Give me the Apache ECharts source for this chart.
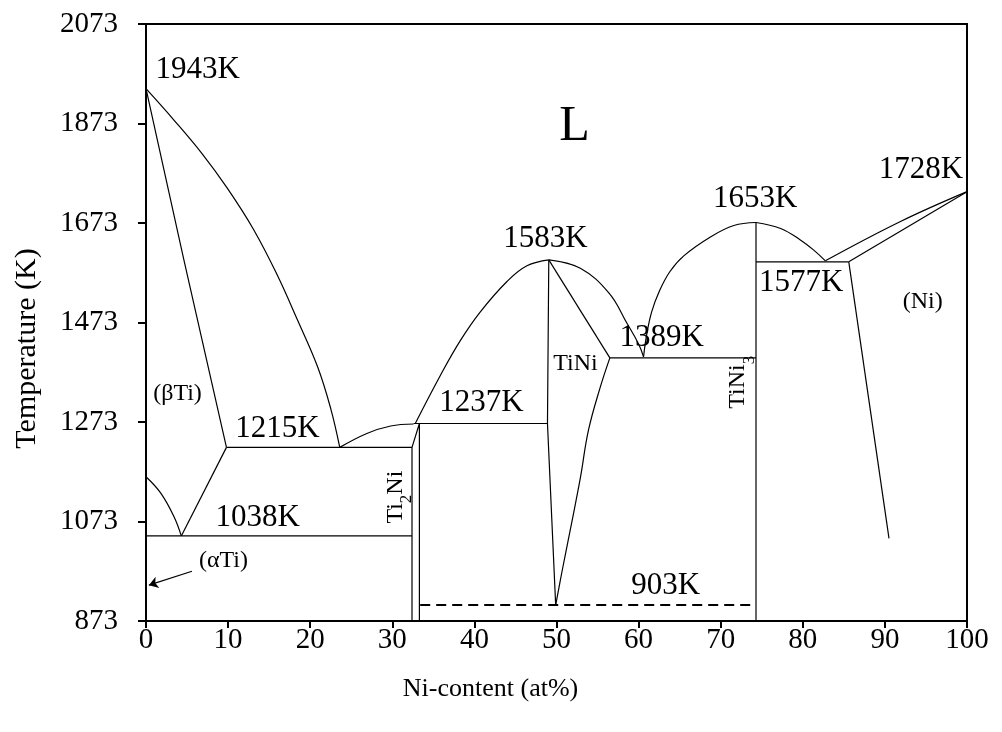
<!DOCTYPE html>
<html>
<head>
<meta charset="utf-8">
<script src="https://cdn.jsdelivr.net/npm/echarts@6/dist/echarts.min.js"></script>
<style>
  html, body { margin: 0; padding: 0; background: #fff; }
  #chart { width: 1002px; height: 732px; }
</style>
</head>
<body>
<div id="chart"></div>
<script>
// Ti-Ni phase diagram: [Ni at%, T in K]
const liquidusTi = [[0, 1943], [3.4, 1880], [6.8, 1813], [9.9, 1743], [13.1, 1660], [16.0, 1568], [18.4, 1480], [20.9, 1384], [22.5, 1300], [23.6, 1222]];
const solidusBetaTi = [[0, 1943], [4.6, 1600], [9.8, 1222]];
const transusLeft = [[0, 1163], [1.8, 1130], [3.4, 1083], [4.3, 1044]];
const transusRight = [[4.3, 1044], [9.8, 1222]];
const eutectic1215 = [[9.8, 1222], [32.4, 1222]];
const eutectoid1038 = [[0, 1044], [32.4, 1044]];
const liquidusTi2Ni = [[23.6, 1222], [26.9, 1250], [29.8, 1265], [32.6, 1269]];
const ti2NiLeft = [[32.4, 1222], [32.4, 873]];
const ti2NiRight = [[32.4, 1222], [33.3, 1270], [33.3, 873]];
const peritectic1237 = [[32.6, 1270], [48.9, 1270]];
const liquidusTiNiLeft = [[32.8, 1270], [35.9, 1368], [38.3, 1437], [40.7, 1494], [44.0, 1556], [46.4, 1587], [49.06, 1599]];
const tiNiLeft = [[49.06, 1599], [48.9, 1270], [49.9, 905]];
const tiNiTop = [[49.06, 1599], [56.5, 1402]];
const tiNiRight = [[56.5, 1402], [55.35, 1344], [53.9, 1257], [52.9, 1160], [51.7, 1058], [50.7, 975], [49.9, 905]];
const liquidusTiNiRight = [[49.06, 1599], [52.9, 1582], [56.4, 1532], [58.6, 1471], [60.0, 1430], [60.6, 1404]];
const eutectic1389 = [[56.5, 1402], [74.3, 1402]];
const liquidusTiNi3Left = [[60.6, 1404], [61.0, 1450], [61.6, 1495], [62.5, 1535], [63.8, 1575], [65.5, 1607], [68.75, 1645], [71.6, 1668], [74.3, 1674]];
const tiNi3Line = [[74.3, 1674], [74.3, 873]];
const liquidusTiNi3Right = [[74.3, 1674], [77.3, 1662], [79.7, 1639], [81.3, 1619], [82.75, 1597]];
const eutectic1577 = [[74.3, 1595], [85.6, 1595]];
const liquidusNi = [[82.75, 1597], [91.9, 1676], [100, 1736]];
const solidusNi = [[85.6, 1595], [100, 1736]];
const solvusNi = [[85.6, 1595], [90.5, 1039]];
const eutectoid903 = [[33.4, 905], [74.3, 905]];
const arrowAlphaTi = [[5.6, 973], [0.35, 945]];

const xTicks = [0, 100, 10];
const yTicks = [873, 2073, 200];

// annotations: [x, T, text]
const tempLabels = [
  [6.3, 1980, '1943K'], [48.65, 1641, '1583K'], [74.2, 1721, '1653K'], [94.4, 1779, '1728K'],
  [79.8, 1552, '1577K'], [62.8, 1442, '1389K'], [40.85, 1311, '1237K'], [16.0, 1259, '1215K'],
  [13.6, 1080, '1038K'], [63.3, 943, '903K']
];
const phaseLabels = [
  [3.84, 1329, '(βTi)'], [9.44, 994, '(αTi)'], [52.3, 1390, 'TiNi'], [94.6, 1514, '(Ni)']
];
const liquidLabel = [[52.2, 1866, 'L']];
const compoundLabels = [
  [30.5, 1122, '{a|Ti}{s|2}{a|Ni}'], [72.2, 1353, '{a|TiNi}{s|3}']
];

const FONT = '"Liberation Serif", "Times New Roman", serif';

const curves = [liquidusTi, transusLeft, liquidusTi2Ni, liquidusTiNiLeft, tiNiRight,
  liquidusTiNiRight, liquidusTiNi3Left, liquidusTiNi3Right, liquidusNi];
const straights = [solidusBetaTi, transusRight, eutectic1215, eutectoid1038, ti2NiLeft, ti2NiRight,
  peritectic1237, tiNiLeft, tiNiTop, eutectic1389, tiNi3Line, eutectic1577, solidusNi, solvusNi];

function lineSeries(data, smooth) {
  return {
    type: 'line', data: data, smooth: smooth, symbol: 'none', silent: true,
    lineStyle: {color: '#000', width: 1.2}, z: 3
  };
}

function textSeries(items, label) {
  return {
    type: 'scatter', symbolSize: 0, silent: true, z: 5,
    itemStyle: {opacity: 1, color: '#000'},
    data: items.map(e => ({value: [e[0], e[1]], name: e[2]})),
    label: Object.assign({show: true, position: 'inside', color: '#000', fontFamily: FONT,
      formatter: p => p.name}, label)
  };
}

let series = [];
curves.forEach(c => series.push(lineSeries(c, 0.4)));
straights.forEach(c => series.push(lineSeries(c, false)));
series.push({
  type: 'line', data: eutectoid903, symbol: 'none', silent: true,
  lineStyle: {color: '#000', width: 2, type: [10, 6]}
});
series.push({
  type: 'lines', coordinateSystem: 'cartesian2d', silent: true,
  symbol: ['none', 'arrow'], symbolSize: 9,
  lineStyle: {color: '#000', width: 1.2, opacity: 1},
  data: [{coords: arrowAlphaTi}]
});
series.push(textSeries(tempLabels, {fontSize: 31}));
series.push(textSeries(phaseLabels, {fontSize: 24}));
series.push(textSeries(liquidLabel, {fontSize: 50}));
series.push(textSeries(compoundLabels, {
  fontSize: 24, rotate: 90,
  rich: {
    a: {fontFamily: FONT, fontSize: 24, lineHeight: 26, verticalAlign: 'top', color: '#000'},
    s: {fontFamily: FONT, fontSize: 17, lineHeight: 17, padding: [15, 0, 0, 0], verticalAlign: 'top', color: '#000'}
  }
}));

const tickText = {color: '#000', fontFamily: FONT, fontSize: 29};

let option = {
  animation: false,
  grid: {left: 146, top: 24, width: 821, height: 597, show: true, borderColor: '#000', borderWidth: 2},
  xAxis: {
    type: 'value', min: xTicks[0], max: xTicks[1], interval: xTicks[2],
    name: 'Ni-content (at%)', nameLocation: 'middle', nameGap: 55,
    nameTextStyle: {color: '#000', fontFamily: FONT, fontSize: 26, padding: [0, 132, 0, 0]},
    axisLine: {lineStyle: {color: '#000', width: 2}},
    axisTick: {length: 7, lineStyle: {color: '#000', width: 2}},
    axisLabel: Object.assign({margin: 5}, tickText),
    splitLine: {show: false}
  },
  yAxis: {
    type: 'value', min: yTicks[0], max: yTicks[1], interval: yTicks[2],
    name: 'Temperature (K)', nameLocation: 'middle', nameGap: 104, nameRotate: 90,
    nameTextStyle: {color: '#000', fontFamily: FONT, fontSize: 30, padding: [0, 52, 0, 0]},
    axisLine: {lineStyle: {color: '#000', width: 2}},
    axisTick: {length: 8, lineStyle: {color: '#000', width: 2}},
    axisLabel: Object.assign({margin: 28, formatter: v => String(v)}, tickText),
    splitLine: {show: false}
  },
  series: series
};

echarts.init(document.getElementById('chart')).setOption(option);
</script>
</body>
</html>
